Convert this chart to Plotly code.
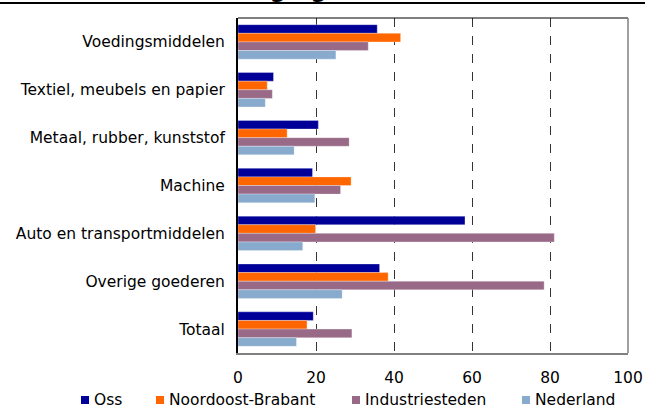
import plotly.graph_objects as go

categories = ["Voedingsmiddelen", "Textiel, meubels en papier", "Metaal, rubber, kunststof",
              "Machine", "Auto en transportmiddelen", "Overige goederen", "Totaal"]
series_names = ["Oss", "Noordoost-Brabant", "Industriesteden", "Nederland"]
oss = [35.7, 9.1, 20.6, 19.1, 58.2, 36.3, 19.3]
noordoost_brabant = [41.7, 7.5, 12.6, 29.0, 19.9, 38.5, 17.7]
industriesteden = [33.4, 8.8, 28.5, 26.3, 81.1, 78.5, 29.2]
nederland = [25.1, 7.0, 14.4, 19.7, 16.6, 26.7, 15.0]
x_ticks = [0, 20, 40, 60, 80, 100]
title_text = "Vestiging (2006)"

colors = ["#000099", "#FF6600", "#996A88", "#88AACC"]
values = [oss, noordoost_brabant, industriesteden, nederland]

W, H = 645, 408
ml, mr, mt, mb = 238, 17, 18, 55
pw, ph = W - ml - mr, H - mt - mb

def px_x(x):
    return (x - ml) / pw

def px_y(y):
    return (H - mb - y) / ph

fig = go.Figure()
for name, vals, col in zip(series_names, values, colors):
    fig.add_trace(go.Bar(
        y=categories, x=vals, name=name, orientation="h", showlegend=False,
        marker=dict(color=col, line=dict(color="rgba(255,255,255,0.6)", width=0.5)),
    ))

font = "DejaVu Sans, Verdana, sans-serif"
fs = 15.5

# legend drawn as squares + labels below the axis
legend_text_x = [92, 167, 363, 533]
legend_y = 400
shapes = [
    dict(type="line", xref="paper", yref="paper", x0=0, x1=1, y0=1, y1=1,
         line=dict(color="black", width=1)),
    dict(type="line", xref="paper", yref="paper", x0=1, x1=1, y0=0, y1=1,
         line=dict(color="#808080", width=1.5)),
    dict(type="line", xref="paper", yref="paper",
         x0=px_x(0), x1=px_x(W), y0=px_y(3), y1=px_y(3),
         line=dict(color="black", width=2)),
]
annotations = [
    dict(text="<b>" + title_text + "</b>", xref="paper", yref="paper",
         x=px_x(422), xanchor="right", y=px_y(4), yanchor="bottom",
         showarrow=False, font=dict(size=23, family=font)),
]
for name, col, tx in zip(series_names, colors, legend_text_x):
    shapes.append(dict(type="rect", xref="paper", yref="paper",
                       x0=px_x(tx - 11), x1=px_x(tx - 3),
                       y0=px_y(legend_y + 4), y1=px_y(legend_y - 4),
                       fillcolor=col, line=dict(width=0)))
    annotations.append(dict(text=name, xref="paper", yref="paper",
                            x=px_x(tx), xanchor="left", y=px_y(legend_y), yanchor="middle",
                            showarrow=False, font=dict(size=fs, family=font)))

fig.update_layout(
    width=W, height=H,
    margin=dict(l=ml, r=mr, t=mt, b=mb, autoexpand=False),
    paper_bgcolor="white", plot_bgcolor="white",
    barmode="group", bargap=0.28, bargroupgap=0,
    font=dict(family=font, size=fs, color="black"),
    showlegend=False,
    xaxis=dict(range=[0, 100], tickvals=x_ticks, showgrid=True, gridcolor="#333333",
               griddash="dash", gridwidth=1, zeroline=False, showline=True,
               linecolor="#808080", linewidth=2, ticks="", ticklabelstandoff=9,
               tickfont=dict(size=fs), automargin=False),
    yaxis=dict(autorange="reversed", showgrid=False, showline=True, linecolor="black",
               linewidth=2, ticks="", tickfont=dict(size=fs), ticklabelstandoff=8,
               automargin=False),
    shapes=shapes,
    annotations=annotations,
)

fig.write_html("out.html", config={"displayModeBar": False},
               post_script="document.body.style.margin='0';document.body.style.overflow='hidden';")
